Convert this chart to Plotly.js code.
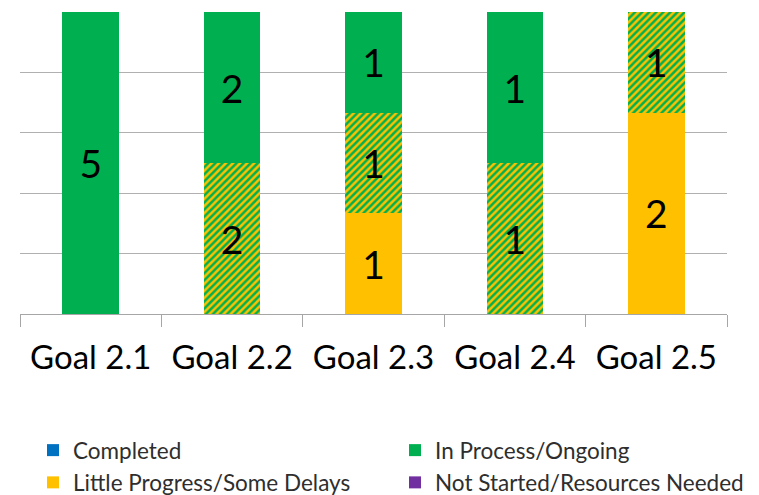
<!DOCTYPE html>
<html>
<head>
<meta charset="utf-8">
<script src="https://cdn.plot.ly/plotly-3.0.1.min.js"></script>
<style>html,body{margin:0;padding:0;background:#fff;}#chart{width:759px;height:495px;}</style>
</head>
<body>
<div id="chart"></div>
<script>
const categories = ['Goal 2.1', 'Goal 2.2', 'Goal 2.3', 'Goal 2.4', 'Goal 2.5'];
const completed = [0, 0, 0, 0, 0];
const littleProgress = [0, 0, 1, 0, 2];
const mixedProgress = [0, 2, 1, 1, 1];
const inProcess = [5, 2, 1, 1, 0];
const notStarted = [0, 0, 0, 0, 0];

const GREEN = '#00B050', YELLOW = '#FFC000', BLUE = '#0070C0', PURPLE = '#7030A0';
const labelFont = {family: 'Lato, "Open Sans", sans-serif', size: 39, color: '#000'};
const txt = arr => arr.map(v => v ? String(v) : '');

function barTrace(name, vals, marker, legend, showlegend) {
  return {
    type: 'bar', name: name, x: categories, y: vals,
    marker: marker, legend: legend, showlegend: showlegend,
    text: txt(vals), textposition: 'inside', insidetextanchor: 'middle',
    textangle: 0, textfont: labelFont, constraintext: 'none',
    hoverinfo: 'x+y+name', cliponaxis: false
  };
}

const data = [
  barTrace('Completed', completed, {color: BLUE, line: {width: 0}}, 'legend', true),
  barTrace('Little Progress/Some Delays', littleProgress, {color: YELLOW, line: {width: 0}}, 'legend', true),
  barTrace('In Process/Some Delays', mixedProgress, {
    color: YELLOW, line: {width: 0},
    pattern: {shape: '/', bgcolor: YELLOW, fgcolor: GREEN, fgopacity: 1, size: 5, solidity: 0.5}
  }, 'legend', false),
  barTrace('In Process/Ongoing', inProcess, {color: GREEN, line: {width: 0}}, 'legend2', true),
  barTrace('Not Started/Resources Needed', notStarted, {color: PURPLE, line: {width: 0}}, 'legend2', true)
];

const legendCommon = {
  orientation: 'v', xanchor: 'left', yanchor: 'top', bgcolor: 'rgba(0,0,0,0)',
  traceorder: 'normal',
  font: {family: 'Lato, "Open Sans", sans-serif', size: 22.5, color: '#2e2e2e'},
  tracegroupgap: 0, itemclick: false
};

const layout = {
  width: 759, height: 495,
  margin: {l: 20, r: 32, t: 12, b: 181, autoexpand: false},
  paper_bgcolor: '#fff', plot_bgcolor: '#fff',
  barmode: 'stack', barnorm: 'percent', bargap: 0.6,
  xaxis: {
    type: 'category', showgrid: false, showline: true, linecolor: '#a6a6a6', linewidth: 1,
    ticks: 'outside', tickson: 'boundaries', ticklen: 12, tickcolor: '#a6a6a6', tickwidth: 1,
    tickfont: {family: 'Lato, "Open Sans", sans-serif', size: 33, color: '#000'},
    ticklabelstandoff: 14, zeroline: false, automargin: false
  },
  yaxis: {
    range: [0, 100], dtick: 20, showgrid: true, gridcolor: '#b0b0b0', gridwidth: 1,
    showticklabels: false, ticks: '', zeroline: false, showline: false, fixedrange: true,
    automargin: false
  },
  legend: Object.assign({}, legendCommon, {x: (33 - 20) / 707, y: (314 - 429) / 302}),
  legend2: Object.assign({}, legendCommon, {x: (395 - 20) / 707, y: (314 - 429) / 302}),
  showlegend: true
};

Plotly.newPlot('chart', data, layout, {displayModeBar: false, staticPlot: true});
</script>
</body>
</html>
